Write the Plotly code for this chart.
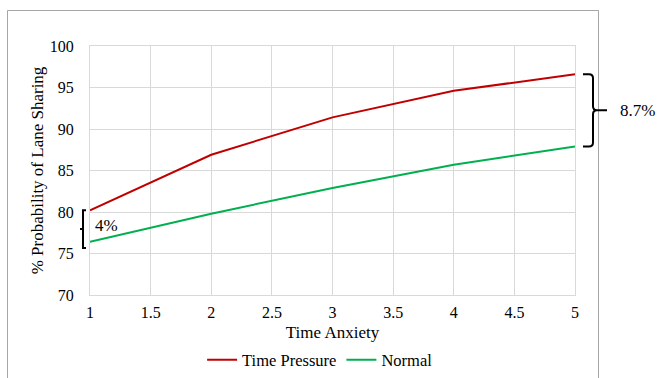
import plotly.graph_objects as go

time_anxiety = [1, 2, 3, 4, 5]
time_pressure = [80.2, 86.9, 91.4, 94.6, 96.6]
normal = [76.4, 79.8, 82.9, 85.7, 87.9]
x_ticks = [1, 1.5, 2, 2.5, 3, 3.5, 4, 4.5, 5]
y_ticks = [70, 75, 80, 85, 90, 95, 100]
gap_left_label = "4%"
gap_right_label = "8.7%"

FONT = "Liberation Serif"
W, H = 660, 378
ML, MR, MT, MB = 90, 85, 46, 83
PW, PH = W - ML - MR, H - MT - MB
YMIN, YMAX = 70, 100


def px_to_paper_x(px):
    return (px - ML) / PW


def px_to_paper_y(py):
    return (H - MB - py) / PH


def val_to_paper_y(v):
    return (v - YMIN) / (YMAX - YMIN)


fig = go.Figure()
fig.add_trace(go.Scatter(x=time_anxiety, y=time_pressure, mode="lines", name="Time Pressure",
                         line=dict(color="#c00000", width=2)))
fig.add_trace(go.Scatter(x=time_anxiety, y=normal, mode="lines", name="Normal",
                         line=dict(color="#00b050", width=2)))

shapes = []
# outer chart border
shapes.append(dict(type="rect", xref="paper", yref="paper",
                   x0=px_to_paper_x(7.5), x1=px_to_paper_x(598.5),
                   y0=px_to_paper_y(440), y1=px_to_paper_y(10.5),
                   line=dict(color="#a6a6a6", width=1), fillcolor="rgba(0,0,0,0)", layer="below"))

# right curly bracket (gap at x=5)
yt = val_to_paper_y(time_pressure[-1])
yb = val_to_paper_y(normal[-1])
ym = (yt + yb) / 2
xa = px_to_paper_x(583)
xb = px_to_paper_x(593)
xc = px_to_paper_x(607)
dy = 4 / PH
dx = 4 / PW
path_r = (f"M {xa},{yt} L {xb-dx},{yt} Q {xb},{yt} {xb},{yt-dy} "
          f"L {xb},{ym+dy} Q {xb},{ym} {xb+dx},{ym} L {xc},{ym} L {xb+dx},{ym} "
          f"Q {xb},{ym} {xb},{ym-dy} L {xb},{yb+dy} Q {xb},{yb} {xb-dx},{yb} L {xa},{yb}")
shapes.append(dict(type="path", xref="paper", yref="paper", path=path_r,
                   line=dict(color="black", width=2)))

# left bracket (gap at x=1)
yt2 = val_to_paper_y(time_pressure[0])
yb2 = val_to_paper_y(normal[0]) - 6 / PH
ym2 = (yt2 + yb2) / 2
xl = px_to_paper_x(83)
xr = px_to_paper_x(86)
xn = px_to_paper_x(80)
path_l = (f"M {xr},{yt2} L {xl},{yt2} L {xl},{ym2} L {xn},{ym2} L {xl},{ym2} "
          f"L {xl},{yb2} L {xr},{yb2}")
shapes.append(dict(type="path", xref="paper", yref="paper", path=path_l,
                   line=dict(color="black", width=2)))

annotations = [
    dict(x=px_to_paper_x(618), y=ym, xref="paper", yref="paper", text=gap_right_label,
         showarrow=False, xanchor="left", yanchor="middle", font=dict(family=FONT, size=17, color="black")),
    dict(x=px_to_paper_x(93), y=ym2 + 4 / PH, xref="paper", yref="paper", text=gap_left_label,
         showarrow=False, xanchor="left", yanchor="middle", font=dict(family=FONT, size=17, color="black")),
]

fig.update_layout(
    width=W, height=H,
    margin=dict(l=ML, r=MR, t=MT, b=MB, pad=0, autoexpand=False),
    paper_bgcolor="white", plot_bgcolor="white",
    font=dict(family=FONT, size=16, color="black"),
    shapes=shapes, annotations=annotations,
    showlegend=True,
    legend=dict(orientation="h", x=0.485, xanchor="center", xref="container",
                y=1 - 360 / H, yanchor="middle", yref="container",
                font=dict(family=FONT, size=16.5, color="black"), traceorder="normal"),
    xaxis=dict(range=[1, 5], tickvals=x_ticks, ticktext=[f"{v:g}" for v in x_ticks],
               showgrid=True, gridcolor="#d9d9d9", gridwidth=1, zeroline=False,
               showline=True, linecolor="#d9d9d9", mirror=True, ticks="",
               tickfont=dict(family=FONT, size=16), ticklabelstandoff=3,
               title=dict(text="Time Anxiety", font=dict(family=FONT, size=17), standoff=13)),
    yaxis=dict(range=[YMIN, YMAX], tickvals=y_ticks, showgrid=True, gridcolor="#d9d9d9",
               gridwidth=1, zeroline=False, showline=True, linecolor="#d9d9d9", mirror=True,
               ticks="", tickfont=dict(family=FONT, size=16), ticklabelstandoff=12,
               title=dict(text="% Probability of Lane Sharing", font=dict(family=FONT, size=17), standoff=1)),
)

fig.write_html("out.html")
